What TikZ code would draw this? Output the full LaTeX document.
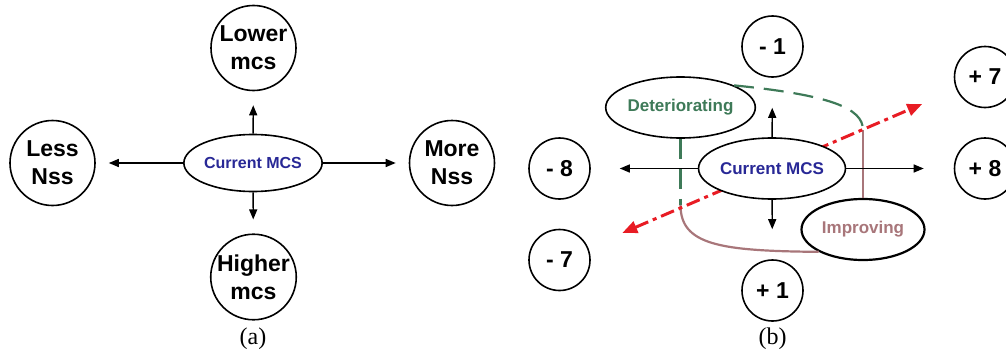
\documentclass[tikz,border=0pt]{standalone}
\usepackage{fontspec}
\setmainfont{Liberation Serif}
\setsansfont{Liberation Sans}
\usetikzlibrary{positioning,arrows.meta,shapes.geometric}

\definecolor{mcsblue}{RGB}{40,40,150}
\definecolor{detgreen}{RGB}{62,122,88}
\definecolor{imprbrown}{RGB}{168,118,122}
\definecolor{dirred}{RGB}{232,28,36}

\begin{document}
\begin{tikzpicture}[
  x=1pt,y=-1pt,
  >={Triangle[length=10pt,width=8pt]},
  font=\sffamily\bfseries,
  bigstate/.style={draw,circle,line width=1.6pt,minimum size=85pt,inner sep=0pt,
                   align=center,font=\sffamily\bfseries\fontsize{23}{28}\selectfont},
  smallstate/.style={draw,circle,line width=1.6pt,minimum size=61pt,inner sep=0pt,
                   font=\sffamily\bfseries\fontsize{23}{28}\selectfont},
  curmcs/.style={draw,ellipse,fill=white,line width=1.6pt,inner sep=0pt,
                 text=mcsblue},
  trend/.style={draw,ellipse,fill=white,line width=1.6pt,inner sep=0pt,
                minimum width=123pt,minimum height=61pt,
                font=\sffamily\bfseries\fontsize{17}{20}\selectfont},
  link/.style={->,line width=1.4pt},
  detline/.style={detgreen,line width=2.2pt,dash pattern=on 20pt off 10pt},
  impline/.style={imprbrown,line width=2.2pt},
  dirline/.style={dirred,line width=3pt,dash pattern=on 14pt off 5pt on 4pt off 5pt,
                  {Triangle[length=15pt,width=12pt]}-{Triangle[length=15pt,width=12pt]}},
  caption/.style={font=\rmfamily\fontsize{24}{28}\selectfont}]

\useasboundingbox (0,0) rectangle (1006,356);

% --- (a): current MCS and its four neighbours ---
\node[curmcs,minimum width=116pt,minimum height=57pt,
      font=\sffamily\bfseries\fontsize{16}{19}\selectfont] (curA) at (253,163) {Current MCS};
\node[bigstate] (lower)  at (253.5,48)  {Lower\\mcs};
\node[bigstate] (higher) at (253.5,277) {Higher\\mcs};
\node[bigstate] (lessN)  at (52.5,163)  {Less\\Nss};
\node[bigstate] (moreN)  at (452,163)   {More\\Nss};

\draw[link,shorten >=14pt] (curA) -- (lower);
\draw[link,shorten >=14pt] (curA) -- (higher);
\draw[link,shorten >=13pt] (curA) -- (lessN);
\draw[link,shorten >=13pt] (curA) -- (moreN);

\node[caption] (capA) at (253,339) {(a)};

% --- (b): MCS steps and the two trend regions ---
\node[smallstate] (m1) at (772.5,46.5) {- 1};
\node[smallstate] (p1) at (772.5,290.5) {+ 1};
\node[smallstate] (m8) at (559.5,168.5) {- 8};
\node[smallstate] (m7) at (559.5,260) {- 7};
\node[smallstate] (p8) at (985,168.5) {+ 8};
\node[smallstate] (p7) at (985,77) {+ 7};

\node[trend,text=detgreen]  (det)  at (680.5,107.5) {Deteriorating};
\node[trend,text=imprbrown,line width=2.2pt] (impr) at (863,229.5) {Improving};

% where the region borders cut the red diagonal
\coordinate (turnR) at (863,130);
\coordinate (turnL) at (680.5,205);

\draw[detline] (det.north east) .. controls (830,95) and (863,108) .. (turnR);
\draw[impline] (turnR) -- (impr.north);
\draw[detline] (det.south) -- (turnL);
\draw[impline] (turnL) .. controls (680.5,245) and (720,251) .. (impr.south west);

\draw[dirline,shorten <=37pt,shorten >=37pt] (m7) -- (p7);

\node[curmcs,minimum width=122pt,minimum height=61pt,
      font=\sffamily\bfseries\fontsize{17}{20}\selectfont] (curB) at (772,168.5) {Current MCS};

\draw[link,shorten >=30pt] (curB) -- (m1);
\draw[link,shorten >=30pt] (curB) -- (p1);
\draw[link,shorten >=29pt] (curB) -- (m8);
\draw[link,shorten >=30pt] (curB) -- (p8);

\node[caption] (capB) at (772.5,339) {(b)};

\end{tikzpicture}
\end{document}
